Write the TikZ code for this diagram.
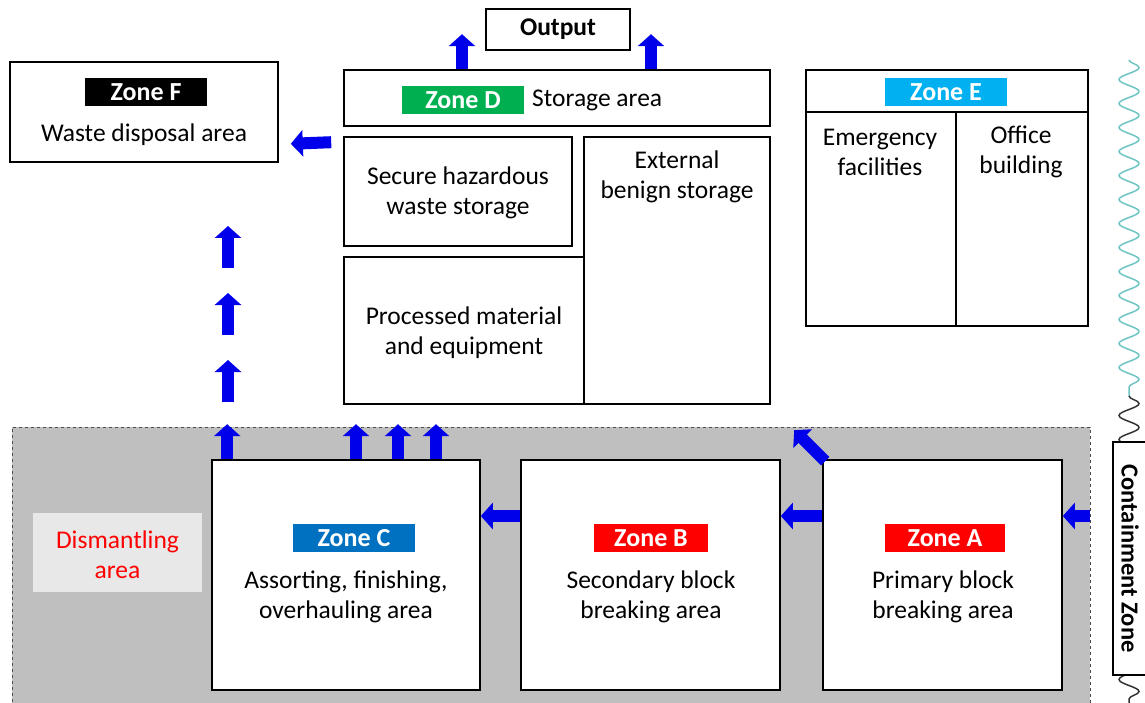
\documentclass[tikz,border=0pt]{standalone}
\usepackage{fontspec}
\setmainfont{Carlito}
\usetikzlibrary{arrows.meta,decorations.pathmorphing,positioning}
\definecolor{flowblue}{RGB}{0,0,235}
\definecolor{tagblue}{RGB}{0,112,192}
\definecolor{tagcyan}{RGB}{0,176,240}
\definecolor{taggreen}{RGB}{0,176,80}
\definecolor{tagred}{RGB}{255,0,0}
\definecolor{hallgray}{RGB}{191,191,191}
\definecolor{wavecyan}{RGB}{110,195,195}
\tikzset{
  txt/.style={font=\fontsize{25.5}{30}\selectfont, align=center, inner sep=0pt},
  box/.style={draw, line width=1.6pt, fill=white, inner sep=0pt},
  tag/.style={fill=#1, text=white, font=\fontsize{26}{30}\selectfont\bfseries,
    minimum width=122pt, minimum height=28pt, inner sep=0pt},
  flow/.style={draw=flowblue, line width=12pt, -{Triangle[width=26pt,length=12pt]}}
}
\begin{document}
\begin{tikzpicture}[x=1pt,y=-1pt]
\useasboundingbox (0,0) rectangle (1145,703);
% wavy boundary
\draw[wavecyan, line width=1.5pt, decorate, decoration={snake, segment length=24pt, amplitude=10pt}]
  (1129,60) -- (1129,396);
\draw[black!80, line width=1.5pt, decorate, decoration={snake, segment length=24pt, amplitude=10pt}]
  (1129,396) -- (1129,708);
% containment hall
\node[fill=hallgray, draw=black!70, dashed, line width=0.8pt, minimum width=1078pt, minimum height=290pt,
  inner sep=0pt] (hall) at (551,572) {};
\node[box, minimum width=40pt, minimum height=233pt] (contain) at (1133,558.5) {};
\node[rotate=-90, font=\fontsize{24.5}{28}\selectfont\bfseries] (containtxt) at (1130,558.5) {Containment Zone};
% top row
\node[box, minimum width=144pt, minimum height=41pt, font=\fontsize{25.5}{30}\selectfont\bfseries] (output) at (558,29.5) {Output};
\node[box, minimum width=268pt, minimum height=100pt] (zoneF) at (144,112) {};
\node[tag=black] (tagF) at (146,92) {Zone F};
\node[txt] (txtF) at (144,135) {Waste disposal area};
\node[box, minimum width=426pt, minimum height=56pt] (zoneD) at (557,98) {};
\node[tag=taggreen] (tagD) at (463,100) {Zone D};
\node[txt, anchor=west] (txtD) at (532,100) {Storage area};
\node[box, minimum width=228pt, minimum height=109pt] (secure) at (458,191.5) {};
\node[txt] (securetxt) at (458,193) {Secure hazardous\\waste storage};
\node[box, minimum width=186pt, minimum height=267pt] (benign) at (677,270.5) {};
\node[txt] (benigntxt) at (677,177) {External\\benign storage};
\node[box, minimum width=240pt, minimum height=147pt] (processed) at (464,330.5) {};
\node[txt] (processedtxt) at (464,333) {Processed material\\and equipment};
\node[box, minimum width=282pt, minimum height=256pt] (zoneE) at (947,198) {};
\draw[line width=1.6pt] (806,112) -- (1088,112);
\draw[line width=1.6pt] (956,112) -- (956,326);
\node[tag=tagcyan] (tagE) at (946,92) {Zone E};
\node[txt] (emergency) at (880,152) {Emergency\\facilities};
\node[txt] (office) at (1021,152) {Office\\building};
% bottom row
\node[fill=black!9, minimum width=169pt, minimum height=79pt, inner sep=0pt] (dismantle) at (117.5,552.5) {};
\node[txt, text=tagred] (dismantletxt) at (117.5,555) {Dismantling\\area};
\node[box, minimum width=268pt, minimum height=230pt] (zoneC) at (346,575) {};
\node[tag=tagblue] (tagC) at (354,538) {Zone C};
\node[txt] (txtC) at (346,597) {Assorting, finishing,\\overhauling area};
\node[box, minimum width=259pt, minimum height=230pt] (zoneB) at (650.5,575) {};
\node[tag=tagred, minimum width=114pt] (tagB) at (651,538) {Zone B};
\node[txt] (txtB) at (651,597) {Secondary block\\breaking area};
\node[box, minimum width=239pt, minimum height=230pt] (zoneA) at (942.5,575) {};
\node[tag=tagred, minimum width=120pt] (tagA) at (945,538) {Zone A};
\node[txt] (txtA) at (943,597) {Primary block\\breaking area};
% flows
\draw[flow] ([xshift=-95pt]zoneD.north) -- ++(0,-35);
\draw[flow] ([xshift=94pt]zoneD.north) -- ++(0,-35);
\draw[flow] ([shift={(-12,6)}]secure.north west) -- ([shift={(12,-19)}]zoneF.south east);
\draw[flow] ([xshift=16pt]zoneC.north west) -- ++(0,-35);
\foreach \y in {402,335,268}
  \draw[flow] (228,\y) -- ++(0,-42);
\foreach \dx in {10,52,90}
  \draw[flow] ([xshift=\dx pt]zoneC.north) -- ++(0,-35);
\draw[flow] ([yshift=59pt]zoneB.west) -- ([yshift=59pt]zoneC.east);
\draw[flow] ([yshift=59pt]zoneA.west) -- ([yshift=59pt]zoneB.east);
\draw[flow] ([yshift=56pt]hall.east) -- ([yshift=59pt]zoneA.east);
\draw[flow] ([shift={(3,2)}]zoneA.north west) -- ++(-31,-31);
\end{tikzpicture}
\end{document}
